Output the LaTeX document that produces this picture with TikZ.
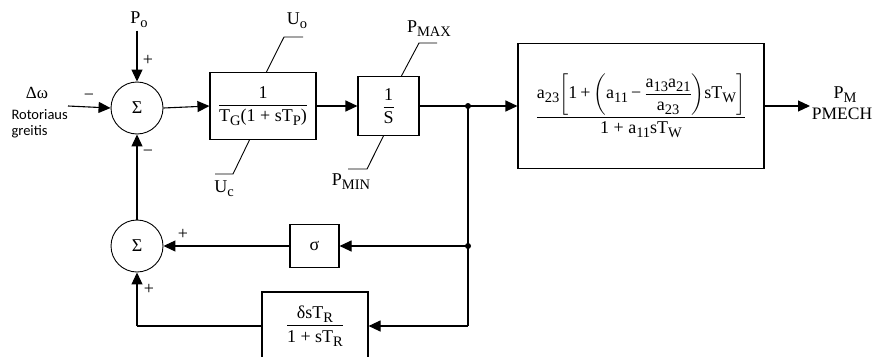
\documentclass[tikz,border=0pt]{standalone}
\usepackage{amsmath}
\usepackage{fontspec}
\setmainfont{Liberation Serif}
\newfontfamily\sansf{Carlito}
\usetikzlibrary{arrows.meta,calc}
\newcommand\lo[1]{\raisebox{-0.5ex}{\fontsize{14.5}{14.5}\selectfont #1}}
\begin{document}
\begin{tikzpicture}[x=1pt,y=-1pt,
  line width=1.1pt,
  every node/.style={font=\fontsize{18}{21}\selectfont, inner sep=0pt},
  arr/.style={-{Triangle[length=12pt,width=11pt]}},
  blk/.style={draw, line width=1.1pt, minimum width=#1},
  sumnode/.style={draw, circle, minimum size=52pt, line width=0.9pt},
  sign/.style={font=\fontsize{18}{18}\selectfont},
  dot/.style={circle, fill, minimum size=6pt},
  lbl/.style={font=\fontsize{18}{21}\selectfont}]
\useasboundingbox (0,0) rectangle (874,356);
% nodes
\node[sumnode] (s1) at (137,108) {Σ};
\node[sumnode] (s2) at (137,246) {Σ};
\node[blk=106pt, minimum height=67pt] (b1) at (263,106) {$\dfrac{\text{1}}{\text{T\lo{G}(1 + sT\lo{P})}}$};
\node[blk=61pt, minimum height=59pt] (b2) at (388.5,106) {$\dfrac{\text{1}}{\text{S}}$};
\node[blk=246pt, minimum height=125pt] (b3) at (641,106)
  {$\dfrac{\text{a\lo{23}}\!\left[\text{1\,+\,}\!\left(\text{a\lo{11}\,−\,}\dfrac{\text{a\lo{13}a\lo{21}}}{\text{a\lo{23}}}\right)\!\text{sT\lo{W}}\right]}{\text{1 + a\lo{11}sT\lo{W}}}$};
\node[blk=49pt, minimum height=43pt] (sg) at (314.5,246) {σ};
\node[blk=106pt, minimum height=68pt] (b4) at (315,326) {$\dfrac{\text{δsT\lo{R}}}{\text{1 + sT\lo{R}}}$};
\node[dot] (j1) at (468,106) {};
\node[dot] (j2) at (468,246) {};
\coordinate (j3) at (468,326);
\coordinate (c4) at (137,326);
\coordinate (inw) at (68,106);
\coordinate (out) at (810,106);
% labels
\node[font=\fontsize{17}{19}\selectfont] (dw) at (37,93) {Δω};
\node[anchor=west, font=\sansf\fontsize{14.5}{16}\selectfont] (rot) at (11,115) {Rotoriaus};
\node[anchor=west, font=\sansf\fontsize{14.5}{16}\selectfont] (gre) at (11,132) {greitis};
\node[sign] (m1) at (89,97) {−};
\node[lbl] (po) at (139,20) {P\lo{o}};
\node[sign] (p1) at (148,60) {+};
\node[sign] (m2) at (148,153) {−};
\node[sign] (p2) at (183,234) {+};
\node[sign] (p3) at (149,289) {+};
\node[lbl] (uo) at (297,21) {U\lo{o}};
\node[lbl] (uc) at (224,189) {U\lo{c}};
\node[lbl] (pmax) at (429,29) {P\lo{MAX}};
\node[lbl] (pmin) at (351,182) {P\lo{MIN}};
\node[lbl] (pm) at (845,95) {P\lo{M}};
\node[font=\fontsize{17.5}{19}\selectfont] (pmech) at (842,114) {PMECH};
% connectors
\draw[arr] (po.south) ++(-2,2) -- (s1.north);
\draw[arr] (inw) -- (s1.west);
\draw[arr] (s1.east) -- (b1.west);
\draw[arr] (b1.east) -- (b2.west);
\draw (b2.east) -- (j1.center);
\draw[arr] (j1.center) -- (b3.west);
\draw[arr] (b3.east) -- (out);
\draw (j1.center) -- (j3);
\draw[arr] (j2.center) -- (sg.east);
\draw[arr] (sg.west) -- (s2.east);
\draw[arr] (j3) -- (b4.east);
\draw (b4.west) -- (c4);
\draw[arr] (c4) -- (s2.south);
\draw[arr] (s2.north) -- (s1.south);
% limit lines
\draw[line width=0.9pt] ($(b1.north west)+(57,0)$) -- (284,37) -- (303,37);
\draw[line width=0.9pt] ($(b1.south west)+(40,0)$) -- (233,174) -- (215,174);
\draw[line width=0.9pt] ($(b2.north west)+(44,0)$) -- (419,43) -- (437,43);
\draw[line width=0.9pt] ($(b2.south west)+(26,0)$) -- (367,169) -- (348,169);
\end{tikzpicture}
\end{document}
